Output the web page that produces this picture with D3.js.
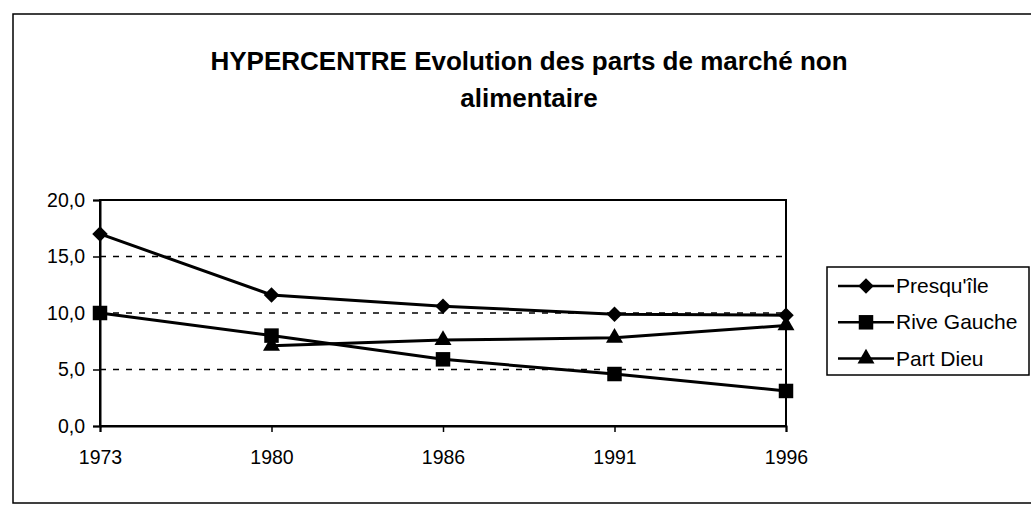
<!DOCTYPE html>
<html>
<head>
<meta charset="utf-8">
<script src="https://cdn.jsdelivr.net/npm/d3@7"></script>
<style>
  body { margin: 0; background: #fff; }
  text { font-family: "Liberation Sans", Arial, sans-serif; fill: #000; }
</style>
</head>
<body>
<svg id="chart" width="1031" height="507"></svg>
<script>
// data
const years = ['1973', '1980', '1986', '1991', '1996'];
const presquile = [17.0, 11.6, 10.6, 9.9, 9.8];
const riveGauche = [10.0, 8.0, 5.9, 4.6, 3.1];
const partDieu = [null, 7.1, 7.6, 7.8, 8.9];
const seriesNames = ["Presqu'île", 'Rive Gauche', 'Part Dieu'];
const yTicks = [0, 5, 10, 15, 20];
const titleLines = ['HYPERCENTRE Evolution des parts de marché non', 'alimentaire'];

const series = [
  { name: seriesNames[0], values: presquile, symbol: 'diamond' },
  { name: seriesNames[1], values: riveGauche, symbol: 'square' },
  { name: seriesNames[2], values: partDieu, symbol: 'triangle' }
];

const svg = d3.select('#chart');
const plot = { left: 100, top: 200, right: 786, bottom: 426 };

// outer frame
svg.append('rect')
  .attr('x', 13).attr('y', 14).attr('width', 1030).attr('height', 489)
  .attr('fill', 'none').attr('stroke', '#000').attr('stroke-width', 1.5);

// title
svg.append('g').selectAll('text').data(titleLines).enter().append('text')
  .attr('x', 529).attr('y', (d, i) => 70 + i * 37)
  .attr('text-anchor', 'middle')
  .style('font-size', '26px').style('font-weight', 'bold')
  .text(d => d);

const x = d3.scalePoint().domain(years).range([plot.left, plot.right]);
const y = d3.scaleLinear().domain([0, 20]).range([plot.bottom, plot.top]);
const fmt = d3.formatLocale({ decimal: ',', thousands: ' ', grouping: [3], currency: ['', ''] }).format('.1f');

// dashed gridlines
svg.append('g').selectAll('line').data(yTicks.filter(t => t > 0 && t < 20)).enter().append('line')
  .attr('x1', plot.left).attr('x2', plot.right)
  .attr('y1', d => y(d)).attr('y2', d => y(d))
  .attr('stroke', '#000').attr('stroke-width', 1.3).attr('stroke-dasharray', '6,7');

// plot border
svg.append('rect')
  .attr('x', plot.left).attr('y', plot.top)
  .attr('width', plot.right - plot.left).attr('height', plot.bottom - plot.top)
  .attr('fill', 'none').attr('stroke', '#000').attr('stroke-width', 2);

// axes
const gy = svg.append('g').attr('transform', `translate(${plot.left},0)`)
  .call(d3.axisLeft(y).tickValues(yTicks).tickFormat(fmt).tickSize(7).tickPadding(8));
const gx = svg.append('g').attr('transform', `translate(0,${plot.bottom})`)
  .call(d3.axisBottom(x).tickSize(6).tickPadding(18));
[gy, gx].forEach(g => {
  g.select('.domain').attr('stroke-width', 2);
  g.selectAll('.tick line').attr('stroke-width', 1.5);
  g.selectAll('.tick text').style('font-size', '19.5px').attr('font-family', null);
});

const symbolPath = {
  diamond: d3.symbol().type(d3.symbolSquare).size(120)(),
  square: d3.symbol().type(d3.symbolSquare).size(210)(),
  triangle: d3.symbol().type(d3.symbolTriangle).size(125)()
};
const symbolRotate = { diamond: 45, square: 0, triangle: 0 };

const line = d3.line()
  .defined(d => d.v != null)
  .x(d => x(d.year)).y(d => y(d.v));

series.forEach(s => {
  const pts = years.map((yr, i) => ({ year: yr, v: s.values[i] }));
  svg.append('path').datum(pts)
    .attr('d', line)
    .attr('fill', 'none').attr('stroke', '#000').attr('stroke-width', 3);
  svg.append('g').selectAll('path').data(pts.filter(d => d.v != null)).enter().append('path')
    .attr('d', symbolPath[s.symbol])
    .attr('transform', d => `translate(${x(d.year)},${y(d.v)}) rotate(${symbolRotate[s.symbol]})`)
    .attr('fill', '#000');
});

// legend
const legend = svg.append('g');
legend.append('rect')
  .attr('x', 827).attr('y', 267).attr('width', 202).attr('height', 108)
  .attr('fill', '#fff').attr('stroke', '#000').attr('stroke-width', 1.5);
const items = legend.selectAll('g.item').data(series).enter().append('g')
  .attr('class', 'item')
  .attr('transform', (d, i) => `translate(0,${286 + i * 36.3})`);
items.append('line')
  .attr('x1', 838).attr('x2', 894).attr('y1', 0).attr('y2', 0)
  .attr('stroke', '#000').attr('stroke-width', 2.5);
items.append('path')
  .attr('d', d => symbolPath[d.symbol])
  .attr('transform', d => `translate(866,0) rotate(${symbolRotate[d.symbol]})`)
  .attr('fill', '#000');
items.append('text')
  .attr('x', 896).attr('y', 7)
  .style('font-size', '21px')
  .text(d => d.name);
</script>
</body>
</html>
